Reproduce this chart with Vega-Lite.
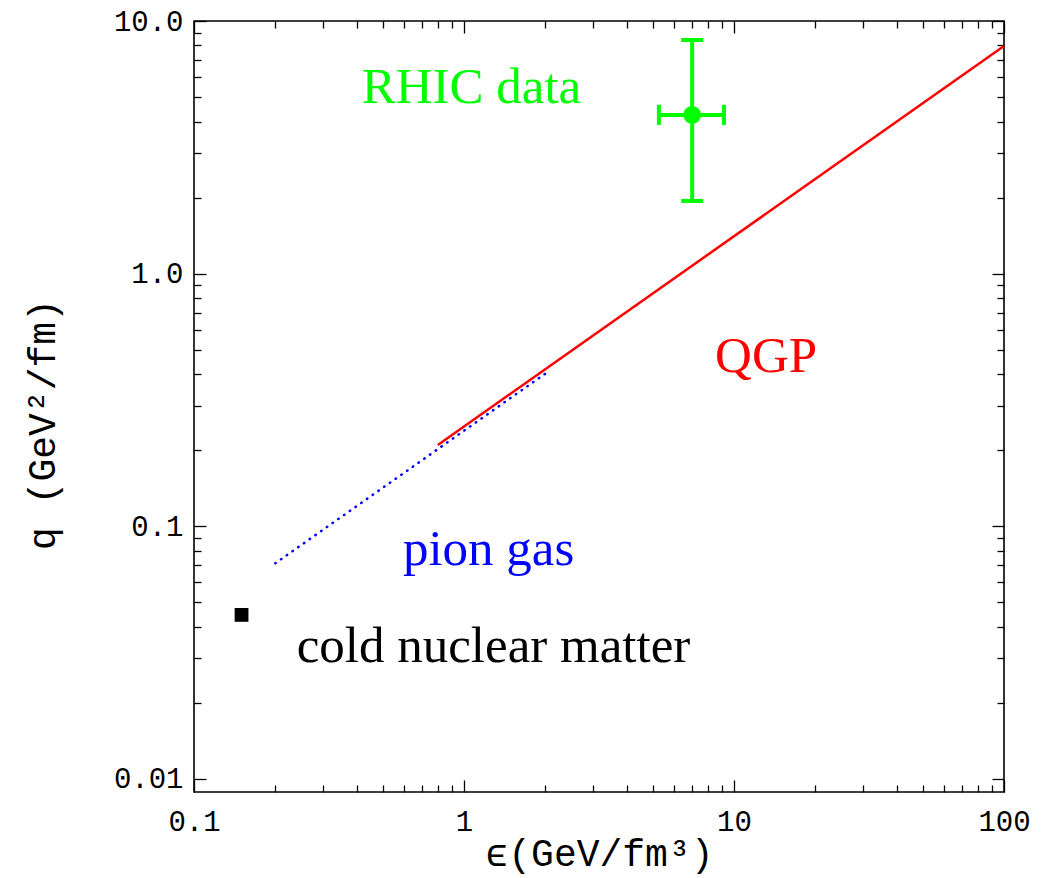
{
  "$schema": "https://vega.github.io/schema/vega-lite/v6.json",
  "width": 810,
  "height": 771,
  "autosize": {"type": "none"},
  "padding": {"left": 194, "top": 21, "right": 49, "bottom": 86},
  "background": "white",
  "config": {
    "view": {"stroke": "black", "strokeWidth": 1.6},
    "axis": {"grid": false, "labelFont": "Liberation Mono", "labelFontSize": 29, "labelColor": "black", "titleFont": "Liberation Mono", "titleFontSize": 38, "titleFontWeight": "normal", "titleColor": "black", "tickColor": "black", "tickWidth": 1.3, "domain": false, "labelFlush": false, "labelOverlap": false}
  },
  "datasets": {
    "qgp": [{"e": 0.8, "q": 0.21}, {"e": 100, "q": 7.96}],
    "pion": [{"e": 0.2, "q": 0.0714}, {"e": 2, "q": 0.402}],
    "cnm": [{"e": 0.15, "q": 0.0446}],
    "rhic": [{"e": 7, "q": 4.25, "e_lo": 5.27, "e_hi": 9.18, "q_lo": 1.94, "q_hi": 8.41}],
    "labels": [
      {"label": "RHIC data", "e": 0.418, "q": 4.72},
      {"label": "QGP", "e": 8.51, "q": 0.409},
      {"label": "pion gas", "e": 0.594, "q": 0.0703},
      {"label": "cold nuclear matter", "e": 0.24, "q": 0.0291}
    ]
  },
  "resolve": {"axis": {"x": "independent", "y": "independent"}},
  "layer": [
    {
      "data": {"name": "qgp"},
      "mark": {"type": "line", "color": "#ff0000", "strokeWidth": 2.5},
      "encoding": {
        "x": {"field": "e", "type": "quantitative", "scale": {"type": "log", "domain": [0.1, 100], "nice": false},
          "axis": {"orient": "bottom", "ticks": false, "values": [0.1, 1, 10, 100], "labelExpr": "datum.value >= 50 ? '100' : datum.value >= 5 ? '10' : datum.value >= 0.5 ? '1' : '0.1'", "labelBaseline": "alphabetic", "labelPadding": 38, "title": "ϵ(GeV/fm³)", "titleY": 73, "titleBaseline": "alphabetic"}},
        "y": {"field": "q", "type": "quantitative", "scale": {"type": "log", "domain": [0.00888, 10], "nice": false},
          "axis": {"orient": "left", "ticks": false, "values": [0.01, 0.1, 1, 10], "labelExpr": "datum.value >= 5 ? '10.0' : datum.value >= 0.5 ? '1.0' : datum.value >= 0.05 ? '0.1' : '0.01'", "labelPadding": 11, "title": "q (GeV²/fm)", "titleX": -140, "titleY": 403, "titleAngle": -90, "titleBaseline": "alphabetic", "titleAlign": "center"}}
      }
    },
    {
      "data": {"name": "pion"},
      "mark": {"type": "line", "color": "#0000ff", "strokeWidth": 2.5, "strokeDash": [0.5, 6.5], "strokeCap": "round"},
      "encoding": {
        "x": {"field": "e", "type": "quantitative", "scale": {"type": "log", "domain": [0.1, 100], "nice": false},
          "axis": {"orient": "bottom", "labels": false, "title": null, "tickSize": -12, "values": [0.1, 1, 10, 100]}},
        "y": {"field": "q", "type": "quantitative", "scale": {"type": "log", "domain": [0.00888, 10], "nice": false},
          "axis": {"orient": "left", "labels": false, "title": null, "tickSize": -12, "values": [0.01, 0.1, 1, 10]}}
      }
    },
    {
      "data": {"name": "cnm"},
      "mark": {"type": "point", "shape": "square", "filled": true, "color": "black", "size": 190, "opacity": 1},
      "encoding": {
        "x": {"field": "e", "type": "quantitative", "scale": {"type": "log", "domain": [0.1, 100], "nice": false},
          "axis": {"orient": "bottom", "labels": false, "title": null, "tickSize": -7, "values": [0.2, 0.3, 0.4, 0.5, 0.6, 0.7, 0.8, 0.9, 2, 3, 4, 5, 6, 7, 8, 9, 20, 30, 40, 50, 60, 70, 80, 90]}},
        "y": {"field": "q", "type": "quantitative", "scale": {"type": "log", "domain": [0.00888, 10], "nice": false},
          "axis": {"orient": "left", "labels": false, "title": null, "tickSize": -7, "values": [0.02, 0.03, 0.04, 0.05, 0.06, 0.07, 0.08, 0.09, 0.2, 0.3, 0.4, 0.5, 0.6, 0.7, 0.8, 0.9, 2, 3, 4, 5, 6, 7, 8, 9]}}
      }
    },
    {
      "data": {"name": "rhic"},
      "mark": {"type": "rule", "color": "#00ff00", "strokeWidth": 4},
      "encoding": {
        "x": {"field": "e", "type": "quantitative", "scale": {"type": "log", "domain": [0.1, 100], "nice": false},
          "axis": {"orient": "top", "labels": false, "title": null, "tickSize": -12, "values": [0.1, 1, 10, 100]}},
        "y": {"field": "q_lo", "type": "quantitative", "scale": {"type": "log", "domain": [0.00888, 10], "nice": false},
          "axis": {"orient": "right", "labels": false, "title": null, "tickSize": -12, "values": [0.01, 0.1, 1, 10]}},
        "y2": {"field": "q_hi"}
      }
    },
    {
      "data": {"name": "rhic"},
      "mark": {"type": "rule", "color": "#00ff00", "strokeWidth": 4},
      "encoding": {
        "x": {"field": "e_lo", "type": "quantitative", "scale": {"type": "log", "domain": [0.1, 100], "nice": false},
          "axis": {"orient": "top", "labels": false, "title": null, "tickSize": -7, "values": [0.2, 0.3, 0.4, 0.5, 0.6, 0.7, 0.8, 0.9, 2, 3, 4, 5, 6, 7, 8, 9, 20, 30, 40, 50, 60, 70, 80, 90]}},
        "x2": {"field": "e_hi"},
        "y": {"field": "q", "type": "quantitative", "scale": {"type": "log", "domain": [0.00888, 10], "nice": false},
          "axis": {"orient": "right", "labels": false, "title": null, "tickSize": -7, "values": [0.02, 0.03, 0.04, 0.05, 0.06, 0.07, 0.08, 0.09, 0.2, 0.3, 0.4, 0.5, 0.6, 0.7, 0.8, 0.9, 2, 3, 4, 5, 6, 7, 8, 9]}}
      }
    },
    {
      "data": {"name": "rhic"},
      "mark": {"type": "tick", "orient": "horizontal", "color": "#00ff00", "size": 22, "thickness": 4, "opacity": 1},
      "encoding": {
        "x": {"field": "e", "type": "quantitative", "scale": {"type": "log", "domain": [0.1, 100], "nice": false}, "axis": null},
        "y": {"field": "q_hi", "type": "quantitative", "scale": {"type": "log", "domain": [0.00888, 10], "nice": false}, "axis": null}
      }
    },
    {
      "data": {"name": "rhic"},
      "mark": {"type": "tick", "orient": "horizontal", "color": "#00ff00", "size": 22, "thickness": 4, "opacity": 1},
      "encoding": {
        "x": {"field": "e", "type": "quantitative", "scale": {"type": "log", "domain": [0.1, 100], "nice": false}, "axis": null},
        "y": {"field": "q_lo", "type": "quantitative", "scale": {"type": "log", "domain": [0.00888, 10], "nice": false}, "axis": null}
      }
    },
    {
      "data": {"name": "rhic"},
      "mark": {"type": "tick", "orient": "vertical", "color": "#00ff00", "size": 20, "thickness": 4, "opacity": 1},
      "encoding": {
        "x": {"field": "e_lo", "type": "quantitative", "scale": {"type": "log", "domain": [0.1, 100], "nice": false}, "axis": null},
        "y": {"field": "q", "type": "quantitative", "scale": {"type": "log", "domain": [0.00888, 10], "nice": false}, "axis": null}
      }
    },
    {
      "data": {"name": "rhic"},
      "mark": {"type": "tick", "orient": "vertical", "color": "#00ff00", "size": 20, "thickness": 4, "opacity": 1},
      "encoding": {
        "x": {"field": "e_hi", "type": "quantitative", "scale": {"type": "log", "domain": [0.1, 100], "nice": false}, "axis": null},
        "y": {"field": "q", "type": "quantitative", "scale": {"type": "log", "domain": [0.00888, 10], "nice": false}, "axis": null}
      }
    },
    {
      "data": {"name": "rhic"},
      "mark": {"type": "circle", "color": "#00ff00", "size": 320, "opacity": 1},
      "encoding": {
        "x": {"field": "e", "type": "quantitative", "scale": {"type": "log", "domain": [0.1, 100], "nice": false}, "axis": null},
        "y": {"field": "q", "type": "quantitative", "scale": {"type": "log", "domain": [0.00888, 10], "nice": false}, "axis": null}
      }
    },
    {
      "data": {"name": "labels"},
      "mark": {"type": "text", "font": "Liberation Serif", "fontSize": 51, "align": "left", "baseline": "alphabetic"},
      "encoding": {
        "x": {"field": "e", "type": "quantitative", "scale": {"type": "log", "domain": [0.1, 100], "nice": false}, "axis": null},
        "y": {"field": "q", "type": "quantitative", "scale": {"type": "log", "domain": [0.00888, 10], "nice": false}, "axis": null},
        "text": {"field": "label"},
        "color": {"field": "label", "type": "nominal", "scale": {"domain": ["RHIC data", "QGP", "pion gas", "cold nuclear matter"], "range": ["#00ff00", "#ff0000", "#0000ff", "#000000"]}, "legend": null}
      }
    }
  ]
}
